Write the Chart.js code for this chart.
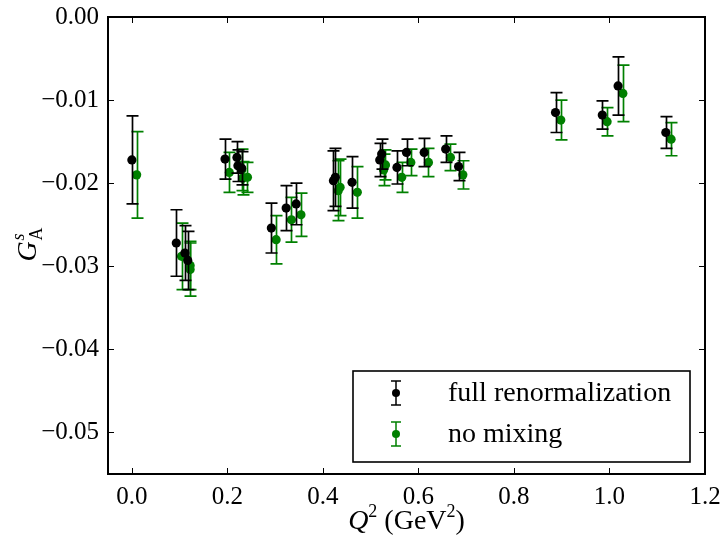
<!DOCTYPE html>
<html>
<head>
<meta charset="utf-8">
<script src="https://cdn.jsdelivr.net/npm/chart.js@4/dist/chart.umd.min.js"></script>
<style>
  body { margin: 0; background: #fff; }
  #wrap { width: 723px; height: 542px; }
</style>
</head>
<body>
<div id="wrap"><canvas id="chart" width="723" height="542"></canvas></div>
<script>
// --- data ---
const fullQ2  = [0.000, 0.093, 0.111, 0.117, 0.195, 0.220, 0.222, 0.230, 0.292, 0.323, 0.344,
                 0.422, 0.426, 0.461, 0.519, 0.523, 0.555, 0.575, 0.612, 0.657, 0.684,
                 0.887, 0.985, 1.018, 1.118];
const fullGA  = [-0.0172, -0.0272, -0.0284, -0.0293, -0.0171, -0.0169, -0.0179, -0.0182, -0.0254, -0.0230, -0.0225,
                 -0.0197, -0.0193, -0.0199, -0.0172, -0.0165, -0.0181, -0.0163, -0.0163, -0.0159, -0.0180,
                 -0.0115, -0.0118, -0.0083, -0.0139];
const fullErr = [0.0053, 0.0040, 0.0033, 0.0035, 0.0024, 0.0019, 0.0019, 0.0020, 0.0030, 0.0027, 0.0025,
                 0.0036, 0.0035, 0.0031, 0.0020, 0.0018, 0.0020, 0.0016, 0.0017, 0.0016, 0.0017,
                 0.0024, 0.0017, 0.0035, 0.0019];

const mixQ2   = [0.010, 0.104, 0.122, 0.122, 0.204, 0.230, 0.232, 0.242, 0.302, 0.334, 0.354,
                 0.432, 0.436, 0.472, 0.527, 0.531, 0.565, 0.584, 0.621, 0.667, 0.693,
                 0.898, 0.995, 1.028, 1.129];
const mixGA   = [-0.0190, -0.0288, -0.0299, -0.0304, -0.0187, -0.0184, -0.0194, -0.0193, -0.0268, -0.0244, -0.0238,
                 -0.0209, -0.0205, -0.0211, -0.0184, -0.0178, -0.0193, -0.0175, -0.0175, -0.0169, -0.0190,
                 -0.0124, -0.0126, -0.0092, -0.0147];
const mixErr  = [0.0052, 0.0040, 0.0029, 0.0032, 0.0024, 0.0025, 0.0020, 0.0018, 0.0029, 0.0027, 0.0026,
                 0.0036, 0.0034, 0.0031, 0.0019, 0.0018, 0.0018, 0.0016, 0.0017, 0.0016, 0.0017,
                 0.0024, 0.0017, 0.0034, 0.0020];

const seriesLabels = ['full renormalization', 'no mixing'];
const xTicks = [0.0, 0.2, 0.4, 0.6, 0.8, 1.0, 1.2];
const yTicks = [0.00, -0.01, -0.02, -0.03, -0.04, -0.05];

const SERIF = '"Liberation Serif", "DejaVu Serif", serif';

function points(xs, ys, es) {
  return xs.map((x, i) => ({ x: x, y: ys[i], e: es[i] }));
}

// error bars drawn just before each dataset's markers
const errorBars = {
  id: 'errorBars',
  beforeDatasetDraw(chart, args) {
    const ds = chart.data.datasets[args.index];
    const ctx = chart.ctx, xs = chart.scales.x, ys = chart.scales.y;
    ctx.save();
    ctx.strokeStyle = ds.borderColor;
    ctx.lineWidth = 1.7;
    for (const p of ds.data) {
      const px = Math.round(xs.getPixelForValue(p.x)) + 0.5;
      const yTop = ys.getPixelForValue(p.y + p.e);
      const yBot = ys.getPixelForValue(p.y - p.e);
      ctx.beginPath();
      ctx.moveTo(px, yTop); ctx.lineTo(px, yBot);
      ctx.moveTo(px - 6, yTop); ctx.lineTo(px + 6, yTop);
      ctx.moveTo(px - 6, yBot); ctx.lineTo(px + 6, yBot);
      ctx.stroke();
    }
    ctx.restore();
  }
};

// matplotlib-classic frame with inward ticks on all sides, axis titles, legend
const frameAndText = {
  id: 'frameAndText',
  afterDatasetsDraw(chart) {
    const ctx = chart.ctx, a = chart.chartArea;
    const xs = chart.scales.x, ys = chart.scales.y;
    ctx.save();
    ctx.strokeStyle = '#000';
    ctx.lineWidth = 1;
    ctx.beginPath();
    xs.ticks.forEach(t => {
      const px = Math.round(xs.getPixelForValue(t.value)) + 0.5;
      ctx.moveTo(px, a.bottom); ctx.lineTo(px, a.bottom - 6);
      ctx.moveTo(px, a.top); ctx.lineTo(px, a.top + 6);
    });
    ys.ticks.forEach(t => {
      const py = Math.round(ys.getPixelForValue(t.value)) + 0.5;
      ctx.moveTo(a.left, py); ctx.lineTo(a.left + 6, py);
      ctx.moveTo(a.right, py); ctx.lineTo(a.right - 6, py);
    });
    ctx.stroke();
    ctx.lineWidth = 2;
    ctx.strokeRect(a.left, a.top, a.right - a.left, a.bottom - a.top);
    ctx.restore();
  },
  afterDraw(chart) {
    const ctx = chart.ctx, a = chart.chartArea;
    ctx.save();
    ctx.fillStyle = '#000';
    ctx.textBaseline = 'alphabetic';

    // x title: Q^2 (GeV^2)
    const parts = [
      { t: 'Q', f: 'italic 28px ' + SERIF, dy: 0 },
      { t: '2', f: '18px ' + SERIF, dy: -12 },
      { t: ' (GeV', f: '28px ' + SERIF, dy: 0 },
      { t: '2', f: '18px ' + SERIF, dy: -12 },
      { t: ')', f: '28px ' + SERIF, dy: 0 }
    ];
    let w = 0;
    parts.forEach(p => { ctx.font = p.f; p.w = ctx.measureText(p.t).width; w += p.w; });
    let x = (a.left + a.right) / 2 - w / 2;
    parts.forEach(p => { ctx.font = p.f; ctx.fillText(p.t, x, 529 + p.dy); x += p.w; });

    // y title: G^s_A rotated
    ctx.translate(36, (a.top + a.bottom) / 2);
    ctx.rotate(-Math.PI / 2);
    ctx.font = 'italic 28px ' + SERIF;
    const gw = ctx.measureText('G').width;
    ctx.fillText('G', -gw / 2 - 6, 0);
    ctx.font = 'italic 18px ' + SERIF;
    ctx.fillText('s', gw / 2 - 5, -12);
    ctx.font = '18px ' + SERIF;
    ctx.fillText('A', gw / 2 - 5, 6);
    ctx.restore();

    // legend
    const ds = chart.data.datasets;
    const bx = a.right - 352, by = a.bottom - 103, bw = 337, bh = 91;
    ctx.save();
    ctx.fillStyle = '#fff';
    ctx.fillRect(bx, by, bw, bh);
    ctx.strokeStyle = '#000';
    ctx.lineWidth = 1.6;
    ctx.strokeRect(bx, by, bw, bh);
    ds.forEach((d, i) => {
      const cy = by + 22 + i * 41;
      const mx = bx + 43;
      ctx.strokeStyle = d.borderColor;
      ctx.lineWidth = 1.5;
      ctx.beginPath();
      ctx.moveTo(mx, cy - 12); ctx.lineTo(mx, cy + 12);
      ctx.moveTo(mx - 5, cy - 12); ctx.lineTo(mx + 5, cy - 12);
      ctx.moveTo(mx - 5, cy + 12); ctx.lineTo(mx + 5, cy + 12);
      ctx.stroke();
      ctx.fillStyle = d.backgroundColor;
      ctx.beginPath(); ctx.arc(mx, cy, 4, 0, Math.PI * 2); ctx.fill();
      ctx.fillStyle = '#000';
      ctx.font = '28px ' + SERIF;
      ctx.textBaseline = 'middle';
      ctx.fillText(d.label, bx + 95, cy + 1);
    });
    ctx.restore();
  }
};

const fmt = v => (Math.abs(v) < 1e-12 ? 0 : v);

new Chart(document.getElementById('chart'), {
  type: 'scatter',
  data: {
    datasets: [
      {
        label: seriesLabels[0],
        data: points(fullQ2, fullGA, fullErr),
        backgroundColor: '#000000',
        borderColor: '#000000',
        pointRadius: 4.6,
        pointBorderWidth: 0
      },
      {
        label: seriesLabels[1],
        data: points(mixQ2, mixGA, mixErr),
        backgroundColor: '#008000',
        borderColor: '#008000',
        pointRadius: 4.6,
        pointBorderWidth: 0
      }
    ]
  },
  options: {
    responsive: false,
    devicePixelRatio: 1,
    animation: false,
    layout: { padding: { left: 0, top: 17, right: 18, bottom: 0 } },
    plugins: {
      legend: { display: false },
      tooltip: { enabled: false }
    },
    scales: {
      x: {
        type: 'linear',
        min: -0.05,
        max: 1.2,
        grid: { display: false, drawTicks: false },
        border: { display: false },
        afterBuildTicks: s => { s.ticks = xTicks.map(v => ({ value: v })); },
        afterFit: s => { s.height = 68; s.paddingLeft = 0; s.paddingRight = 0; },
        ticks: {
          padding: 8,
          maxRotation: 0,
          color: '#000',
          font: { family: SERIF, size: 25 },
          callback: v => fmt(v).toFixed(1)
        }
      },
      y: {
        type: 'linear',
        min: -0.055,
        max: 0,
        grid: { display: false, drawTicks: false },
        border: { display: false },
        afterBuildTicks: s => { s.ticks = yTicks.map(v => ({ value: v })); },
        afterFit: s => { s.width = 108; s.paddingTop = 0; s.paddingBottom = 0; },
        ticks: {
          padding: 9,
          color: '#000',
          font: { family: SERIF, size: 25 },
          callback: v => fmt(v).toFixed(2).replace('-', '\u2212')
        }
      }
    }
  },
  plugins: [errorBars, frameAndText]
});
</script>
</body>
</html>
